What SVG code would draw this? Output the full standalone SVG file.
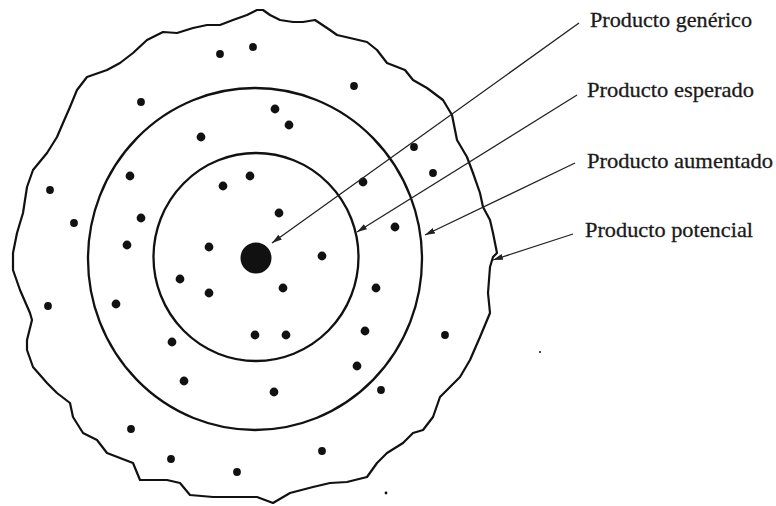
<svg xmlns="http://www.w3.org/2000/svg" width="776" height="506" viewBox="0 0 776 506">
<style>
.ring{fill:none;stroke:#111;stroke-width:2.3}
.wavy{fill:none;stroke:#111;stroke-width:2.2;stroke-linejoin:round}
.dot{fill:#111}
.conn{stroke:#222;stroke-width:1.3;fill:none;marker-end:url(#ah)}
.lbl{font-family:"Liberation Serif","Times New Roman",serif;font-size:22px;fill:#1a1a1a;stroke:#1a1a1a;stroke-width:0.3}
</style>
<defs>
<marker id="ah" viewBox="0 0 10 6" refX="10" refY="3" markerWidth="10" markerHeight="6" markerUnits="userSpaceOnUse" orient="auto">
<path d="M0,0 L10,3 L0,6 Z" fill="#222"/>
</marker>
</defs>
<rect width="776" height="506" fill="#fff"/>
<g id="potencial">
<path class="wavy" d="M257,10 L263,10 L270,15 L280,20 L293,22 L303,22 L315,20 L330,30 L337,35 L350,38 L367,42 L377,50 L387,63 L405,70 L413,80 L427,88 L443,100 L452,115 L457,140 L467,157 L473,173 L480,193 L483,207 L490,220 L493,233 L497,253 L493,257 L490,267 L488,293 L490,313 L480,337 L470,360 L460,377 L440,397 L433,417 L423,430 L413,433 L403,443 L387,453 L377,463 L367,477 L347,482 L330,483 L313,487 L290,493 L273,503 L257,497 L240,497 L213,497 L190,495 L180,483 L167,480 L140,480 L133,463 L120,458 L107,453 L97,440 L83,433 L73,417 L70,403 L57,393 L47,383 L33,367 L27,350 L27,340 L32,320 L30,313 L20,290 L13,270 L13,257 L13,253 L17,233 L23,213 L27,187 L33,170 L47,153 L57,137 L63,123 L70,107 L77,90 L87,77 L107,70 L120,63 L133,53 L147,40 L163,32 L177,33 L193,28 L207,25 L220,25 L233,20 L247,15 Z"/>
<g class="dot">
<circle cx="220" cy="54" r="3.9"/><circle cx="253" cy="47" r="3.9"/><circle cx="354" cy="86" r="3.9"/><circle cx="141" cy="102" r="3.9"/>
<circle cx="414" cy="147" r="3.9"/><circle cx="433" cy="173" r="3.9"/><circle cx="50" cy="190" r="3.9"/><circle cx="74" cy="223" r="3.9"/>
<circle cx="48" cy="306" r="3.9"/><circle cx="445" cy="335" r="3.9"/><circle cx="381" cy="390" r="3.9"/><circle cx="131" cy="429" r="3.9"/>
<circle cx="171" cy="459" r="3.9"/><circle cx="322" cy="451" r="3.9"/><circle cx="237" cy="472" r="3.9"/>
<circle cx="386" cy="493" r="1.4"/><circle cx="540" cy="352" r="1"/>
</g>
</g>
<g id="aumentado">
<ellipse class="ring" cx="255" cy="259" rx="167" ry="171"/>
<g class="dot">
<circle cx="275" cy="109" r="4.4"/><circle cx="289" cy="125" r="4.4"/><circle cx="201" cy="137" r="4.4"/><circle cx="130" cy="176" r="4.4"/>
<circle cx="141" cy="218" r="4.4"/><circle cx="127" cy="245" r="4.4"/><circle cx="395" cy="227" r="4.4"/><circle cx="363" cy="182" r="4.4"/>
<circle cx="376" cy="288" r="4.4"/><circle cx="116" cy="304" r="4.4"/><circle cx="365" cy="331" r="4.4"/><circle cx="172" cy="342" r="4.4"/>
<circle cx="357" cy="366" r="4.4"/><circle cx="184" cy="381" r="4.4"/><circle cx="274" cy="392" r="4.4"/>
</g>
</g>
<g id="esperado">
<ellipse class="ring" cx="256" cy="257" rx="102.5" ry="104"/>
<g class="dot">
<circle cx="250" cy="176" r="4.4"/><circle cx="223" cy="186" r="4.4"/><circle cx="279" cy="213" r="4.4"/><circle cx="209" cy="247" r="4.4"/>
<circle cx="322" cy="256" r="4.4"/><circle cx="180" cy="279" r="4.4"/><circle cx="209" cy="293" r="4.4"/><circle cx="283" cy="288" r="4.4"/>
<circle cx="255" cy="335" r="4.4"/><circle cx="286" cy="335" r="4.4"/>
</g>
</g>
<g id="generico">
<circle class="dot" cx="256" cy="258" r="15.5"/>
</g>
<g id="connectors">
<line class="conn" x1="579" y1="23" x2="272" y2="243"/>
<line class="conn" x1="577" y1="95" x2="357" y2="232"/>
<line class="conn" x1="575" y1="163" x2="425" y2="235"/>
<line class="conn" x1="573" y1="234" x2="493" y2="260"/>
</g>
<g id="labels">
<text class="lbl" x="590" y="27" textLength="162" lengthAdjust="spacingAndGlyphs">Producto genérico</text>
<text class="lbl" x="587" y="97" textLength="167" lengthAdjust="spacingAndGlyphs">Producto esperado</text>
<text class="lbl" x="587" y="168" textLength="186" lengthAdjust="spacingAndGlyphs">Producto aumentado</text>
<text class="lbl" x="585" y="237" textLength="168" lengthAdjust="spacingAndGlyphs">Producto potencial</text>
</g>
</svg>
